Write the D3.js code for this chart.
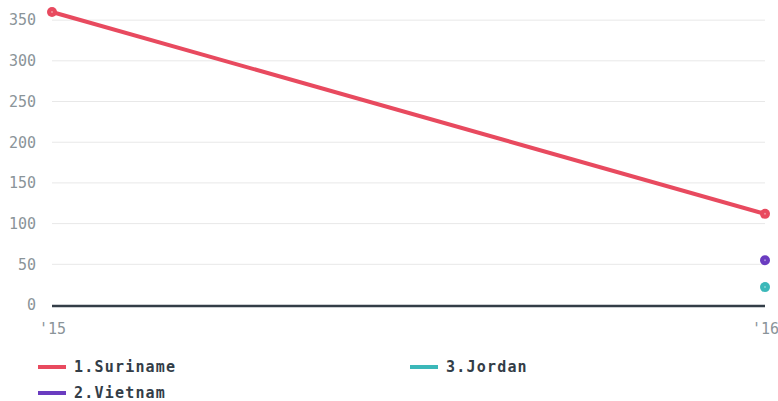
<!DOCTYPE html>
<html>
<head>
<meta charset="utf-8">
<script src="https://cdn.jsdelivr.net/npm/d3@7"></script>
<style>
  body { margin: 0; background: #fff; }
  svg { display: block; }
  .tick text { font-family: "DejaVu Sans Mono", monospace; }
</style>
</head>
<body>
<svg id="chart" width="778" height="401"></svg>
<script>
// data
var years = ["'15", "'16"];
var suriname = [360, 112];
var vietnam = [null, 55];
var jordan = [null, 22];
var yTicks = [0, 50, 100, 150, 200, 250, 300, 350];

var series = [
  { name: "1.Suriname", values: suriname, color: "#e84a5f" },
  { name: "2.Vietnam", values: vietnam, color: "#6a3cc0" },
  { name: "3.Jordan", values: jordan, color: "#3bb8b9" }
];

var svg = d3.select("#chart");
var margin = { top: 12, right: 13, bottom: 96, left: 52 };
var width = 778 - margin.left - margin.right;
var height = 401 - margin.top - margin.bottom;

var g = svg.append("g").attr("transform", "translate(" + margin.left + "," + margin.top + ")");

var x = d3.scalePoint().domain(years).range([0, width]);
var y = d3.scaleLinear().domain([0, 360]).range([height, 0]);

// grid
g.append("g").selectAll("line")
  .data(yTicks.filter(function(d) { return d > 0; }))
  .enter().append("line")
    .attr("x1", 0).attr("x2", width)
    .attr("y1", function(d) { return y(d); })
    .attr("y2", function(d) { return y(d); })
    .attr("stroke", "#e8e8e8").attr("stroke-width", 1);

// y axis labels
var yAxis = g.append("g")
  .call(d3.axisLeft(y).tickValues(yTicks).tickSize(0).tickPadding(16));
yAxis.select(".domain").remove();
yAxis.selectAll("text").attr("fill", "#8a9499").style("font-size", "15px");

// x axis labels
var xAxis = g.append("g")
  .attr("transform", "translate(0," + height + ")")
  .call(d3.axisBottom(x).tickSize(0).tickPadding(18));
xAxis.select(".domain").remove();
xAxis.selectAll("text").attr("fill", "#8a9499").style("font-size", "15px");

// zero line
g.append("line")
  .attr("x1", 0).attr("x2", width)
  .attr("y1", y(0) + 1).attr("y2", y(0) + 1)
  .attr("stroke", "#333d47").attr("stroke-width", 2.5);

var line = d3.line()
  .defined(function(d) { return d != null; })
  .x(function(d, i) { return x(years[i]); })
  .y(function(d) { return y(d); });

series.forEach(function(s) {
  g.append("path")
    .attr("d", line(s.values))
    .attr("fill", "none")
    .attr("stroke", s.color)
    .attr("stroke-width", 4);

  var pts = s.values.map(function(v, i) { return { v: v, i: i }; }).filter(function(d) { return d.v != null; });
  var dots = g.selectAll(null).data(pts).enter().append("g")
    .attr("transform", function(d) { return "translate(" + x(years[d.i]) + "," + y(d.v) + ")"; });
  dots.append("circle").attr("r", 5).attr("fill", s.color);
  dots.append("circle").attr("r", 1).attr("fill", "#fff").attr("fill-opacity", 0.4);
});

// legend
var legendPos = [[38, 367], [38, 393], [410, 367]];
var legend = svg.append("g").selectAll("g")
  .data(series)
  .enter().append("g")
    .attr("transform", function(d, i) { return "translate(" + legendPos[i][0] + "," + legendPos[i][1] + ")"; });

legend.append("line")
  .attr("x1", 0).attr("x2", 28)
  .attr("stroke", function(d) { return d.color; })
  .attr("stroke-width", 4);

legend.append("text")
  .attr("x", 36)
  .attr("dy", "0.35em")
  .attr("fill", "#333d47")
  .style("font-family", "'DejaVu Sans Mono', monospace")
  .style("font-weight", "bold")
  .style("font-size", "15px")
  .style("letter-spacing", "1.2px")
  .text(function(d) { return d.name; });
</script>
</body>
</html>
